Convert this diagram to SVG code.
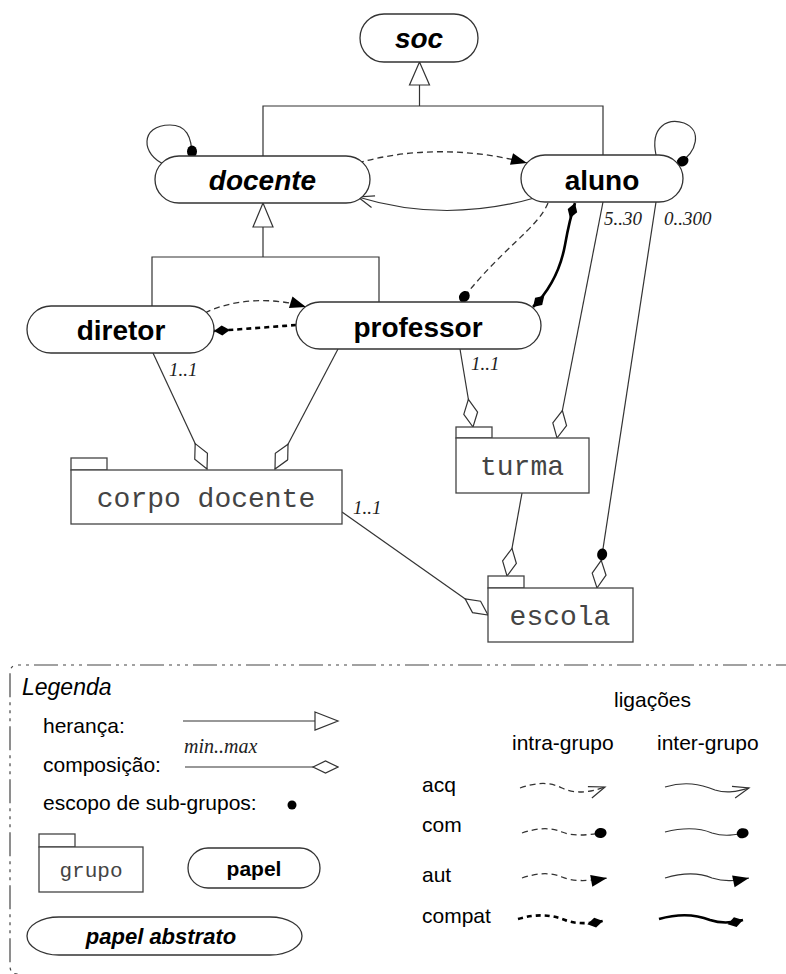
<svg xmlns="http://www.w3.org/2000/svg" width="786" height="974" viewBox="0 0 786 974">
  <style>
    .node { fill: #fff; stroke: #333; stroke-width: 1.3; }
    .pkg { fill: #fff; stroke: #444; stroke-width: 1.3; }
    .role { font-family: "Liberation Sans", Arial, sans-serif; font-weight: bold; font-size: 28px; fill: #000; text-anchor: middle; }
    .abstract { font-style: italic; }
    .grp { font-family: "Liberation Mono", "Courier New", monospace; font-size: 28px; fill: #444; text-anchor: middle; }
    .card { font-family: "Liberation Serif", "Times New Roman", serif; font-style: italic; font-size: 19px; fill: #222; }
    .lbl { font-family: "Liberation Sans", Arial, sans-serif; font-size: 21px; fill: #000; }
    .ln { fill: none; stroke: #333; stroke-width: 1.2; }
    .dash { fill: none; stroke: #333; stroke-width: 1.3; stroke-dasharray: 6 4; }
    .thick { fill: none; stroke: #000; stroke-width: 2.6; }
    .thickdash { fill: none; stroke: #000; stroke-width: 2.6; stroke-dasharray: 5 4; }
    .inh { fill: #fff; stroke: #333; stroke-width: 1.2; }
    .border { fill: none; stroke: #444; stroke-width: 1.2; stroke-dasharray: 24 5 3 5 3 5 3 5; }
  </style>
  <defs>
    <!-- acquaintance: open arrow head -->
    <marker id="acq" markerUnits="userSpaceOnUse" markerWidth="20" markerHeight="16" viewBox="-18 -8 20 16" refX="0" refY="0" orient="auto">
      <path d="M -16 -6 L 0 0 L -16 6" fill="none" stroke="#333" stroke-width="1.2"/>
    </marker>
    <!-- authority: filled arrow head -->
    <marker id="aut" markerUnits="userSpaceOnUse" markerWidth="20" markerHeight="16" viewBox="-18 -8 20 16" refX="0" refY="0" orient="auto">
      <path d="M -16 -6 L 0 0 L -16 6 Z" fill="#000"/>
    </marker>
    <!-- communication: filled dot -->
    <marker id="com" markerUnits="userSpaceOnUse" markerWidth="16" markerHeight="14" viewBox="-13 -7 16 14" refX="0" refY="0" orient="auto">
      <ellipse cx="-5.5" cy="0" rx="6" ry="5" fill="#000"/>
    </marker>
    <!-- compatibility: filled diamond -->
    <marker id="compat" markerUnits="userSpaceOnUse" markerWidth="20" markerHeight="14" viewBox="-18 -7 20 14" refX="0" refY="0" orient="auto-start-reverse">
      <path d="M -16 0 L -8 -5 L 0 0 L -8 5 Z" fill="#000"/>
    </marker>
    <!-- composition: open diamond -->
    <marker id="comp" markerUnits="userSpaceOnUse" markerWidth="32" markerHeight="16" viewBox="-30 -8 32 16" refX="0" refY="0" orient="auto">
      <path d="M -28 0 L -14 -7 L 0 0 L -14 7 Z" fill="#fff" stroke="#333" stroke-width="1.2"/>
    </marker>
    <!-- composition with sub-group scope dot -->
    <marker id="compdot" markerUnits="userSpaceOnUse" markerWidth="44" markerHeight="16" viewBox="-42 -8 44 16" refX="0" refY="0" orient="auto">
      <path d="M -28 0 L -14 -7 L 0 0 L -14 7 Z" fill="#fff" stroke="#333" stroke-width="1.2"/>
      <ellipse cx="-34" cy="0" rx="6" ry="5" fill="#000"/>
    </marker>
    <marker id="compsmall" markerUnits="userSpaceOnUse" markerWidth="28" markerHeight="14" viewBox="-27 -7 28 14" refX="0" refY="0" orient="auto">
      <path d="M -25 0 L -12.5 -6 L 0 0 L -12.5 6 Z" fill="#fff" stroke="#333" stroke-width="1.2"/>
    </marker>
  </defs>

  <!-- connectors -->
  <g id="connectors">
    <!-- inheritance: docente/aluno from soc -->
    <path class="ln" d="M 419.5 85 V 106 M 263 156 V 106 H 603 V 155"/>
    <polygon class="inh" points="419.5,62 409.5,85 429.5,85"/>
    <!-- inheritance: diretor/professor from docente -->
    <path class="ln" d="M 263 227 V 257 M 152 306 V 257 H 379 V 302"/>
    <polygon class="inh" points="263,203 253,227 273,227"/>

    <!-- self loops -->
    <path class="ln" d="M 166 165 C 140 155, 140 125, 170 125 C 186 125, 192 136, 192 157" marker-end="url(#com)"/>
    <path class="ln" d="M 656 155 C 650 126, 668 118, 684 123 C 702 130, 698 152, 678 164" marker-end="url(#com)"/>

    <!-- docente / aluno -->
    <path class="dash" d="M 358 163 C 410 148, 470 148, 527 163" marker-end="url(#aut)"/>
    <path class="ln" d="M 538 197 C 480 214, 420 216, 358 197" marker-end="url(#acq)"/>

    <!-- aluno / professor -->
    <path class="dash" d="M 548 203 C 538 228, 500 250, 461 301" marker-end="url(#com)"/>
    <path class="thick" d="M 533 307 C 548 292, 560 272, 565 245 C 568 228, 571 215, 575 203" marker-start="url(#compat)" marker-end="url(#compat)"/>

    <!-- diretor / professor -->
    <path class="dash" d="M 205 313 C 230 300, 270 296, 306 307" marker-end="url(#aut)"/>
    <path class="thickdash" d="M 296 325 C 270 327, 245 329, 214 331" marker-end="url(#compat)"/>

    <!-- compositions -->
    <path class="ln" d="M 153 353 L 207 469" marker-end="url(#comp)"/>
    <path class="ln" d="M 338 349 L 275 469" marker-end="url(#comp)"/>
    <path class="ln" d="M 460 349 L 473 427" marker-end="url(#comp)"/>
    <path class="ln" d="M 603 202 L 557 438" marker-end="url(#comp)"/>
    <path class="ln" d="M 656 202 L 597 588" marker-end="url(#compdot)"/>
    <path class="ln" d="M 522 493 L 507 576" marker-end="url(#comp)"/>
    <path class="ln" d="M 342 512 L 488 615" marker-end="url(#comp)"/>

    <!-- cardinalities -->
    <text class="card" x="169" y="376">1..1</text>
    <text class="card" x="471" y="370">1..1</text>
    <text class="card" x="353" y="514">1..1</text>
    <text class="card" x="604" y="225">5..30</text>
    <text class="card" x="664" y="225">0..300</text>
  </g>

  <!-- roles -->
  <g id="soc">
    <rect class="node" x="360" y="14" width="118" height="48" rx="24" ry="24"/>
    <text class="role abstract" x="419" y="48">soc</text>
  </g>
  <g id="docente">
    <rect class="node" x="155" y="156" width="215" height="47" rx="24" ry="23.5"/>
    <text class="role abstract" x="262.5" y="190">docente</text>
  </g>
  <g id="aluno">
    <rect class="node" x="521" y="155" width="162" height="47" rx="24" ry="23.5"/>
    <text class="role" x="602" y="190">aluno</text>
  </g>
  <g id="diretor">
    <rect class="node" x="27" y="306" width="187" height="47" rx="24" ry="23.5"/>
    <text class="role" x="121" y="340">diretor</text>
  </g>
  <g id="professor">
    <rect class="node" x="296" y="302" width="245" height="47" rx="24" ry="23.5"/>
    <text class="role" x="418" y="337">professor</text>
  </g>

  <!-- groups -->
  <g id="corpo-docente">
    <rect class="pkg" x="71" y="458" width="36" height="12"/>
    <rect class="pkg" x="71" y="470" width="271" height="54"/>
    <text class="grp" x="206" y="507">corpo docente</text>
  </g>
  <g id="turma">
    <rect class="pkg" x="456" y="427" width="36" height="11"/>
    <rect class="pkg" x="456" y="438" width="133" height="55"/>
    <text class="grp" x="522" y="475">turma</text>
  </g>
  <g id="escola">
    <rect class="pkg" x="488" y="576" width="36" height="12"/>
    <rect class="pkg" x="488" y="588" width="145" height="54"/>
    <text class="grp" x="560" y="625">escola</text>
  </g>

  <!-- legend -->
  <g id="legend">
    <path class="border" d="M 800 665 H 18 Q 10 665 10 673 V 966 Q 10 974 18 974"/>
    <text class="lbl" x="22" y="695" style="font-style: italic; font-size: 23px">Legenda</text>

    <text class="lbl" x="43" y="733">herança:</text>
    <line class="ln" x1="183" y1="721" x2="315" y2="721"/>
    <polygon class="inh" points="315,712 338,721 315,730"/>

    <text class="card" x="184" y="753" style="font-size: 20px">min..max</text>
    <text class="lbl" x="43" y="772">composição:</text>
    <path class="ln" d="M 185 767 L 338 767" marker-end="url(#compsmall)"/>

    <text class="lbl" x="43" y="810">escopo de sub-grupos:</text>
    <circle cx="292" cy="805" r="4.5" fill="#000"/>

    <g id="legend-grupo">
      <rect class="pkg" x="39" y="834" width="36" height="13"/>
      <rect class="pkg" x="39" y="847" width="104" height="45"/>
      <text class="grp" x="91" y="877" style="font-size: 21px">grupo</text>
    </g>
    <g id="legend-papel">
      <rect class="node" x="188" y="848" width="132" height="40" rx="20" ry="20"/>
      <text class="role" x="254" y="876" style="font-size: 21px">papel</text>
    </g>
    <g id="legend-papel-abstrato">
      <rect class="node" x="27" y="917" width="275" height="38" rx="32" ry="19"/>
      <text class="role abstract" x="161" y="944" style="font-size: 22px">papel abstrato</text>
    </g>

    <text class="lbl" x="614" y="707">ligações</text>
    <text class="lbl" x="512" y="750">intra-grupo</text>
    <text class="lbl" x="657" y="750">inter-grupo</text>
    <text class="lbl" x="422" y="792">acq</text>
    <text class="lbl" x="422" y="832">com</text>
    <text class="lbl" x="422" y="882">aut</text>
    <text class="lbl" x="422" y="923">compat</text>

    <path class="dash" stroke-width="1.1" d="M 520 788 C 535 783, 548 781, 562 788 C 572 793, 585 794, 605 787" marker-end="url(#acq)"/>
    <path class="ln" d="M 665 787 C 685 781, 700 784, 715 790 C 728 794, 738 791, 749 788" marker-end="url(#acq)"/>
    <path class="dash" stroke-width="1.1" d="M 522 833 C 537 828, 550 827, 562 832 C 572 836, 585 836, 606 832" marker-end="url(#com)"/>
    <path class="ln" d="M 665 832 C 685 827, 700 828, 712 833 C 725 837, 735 835, 748 832" marker-end="url(#com)"/>
    <path class="dash" stroke-width="1.1" d="M 522 878 C 537 873, 550 872, 562 877 C 572 881, 585 882, 607 878" marker-end="url(#aut)"/>
    <path class="ln" d="M 665 878 C 685 872, 700 873, 712 878 C 725 882, 735 881, 749 878" marker-end="url(#aut)"/>
    <path class="thickdash" d="M 518 919 C 535 914, 550 914, 565 920 C 575 924, 588 924, 603 921" marker-end="url(#compat)"/>
    <path class="thick" d="M 659 919 C 680 913, 695 914, 710 920 C 722 924, 732 923, 743 920" marker-end="url(#compat)"/>
  </g>
</svg>
